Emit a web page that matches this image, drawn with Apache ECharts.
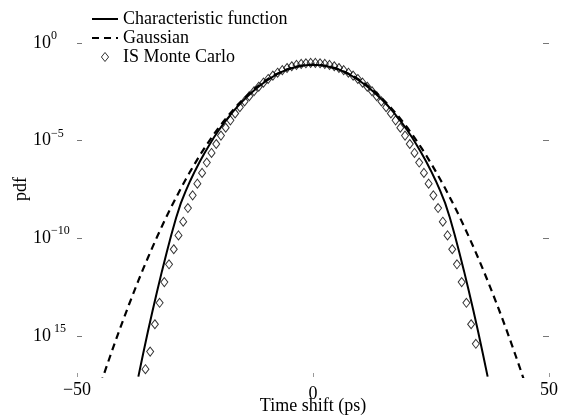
<!DOCTYPE html>
<html>
<head>
<meta charset="utf-8">
<script src="https://cdn.jsdelivr.net/npm/echarts@6/dist/echarts.min.js"></script>
<style>html,body{margin:0;padding:0;background:#fff}#c{width:575px;height:416px}</style>
</head>
<body>
<div id="c"></div>
<script>
// Time shift (ps) sample positions and log10(pdf) values
const charX = [-37,-36,-35,-34,-33,-32,-31,-30,-29,-28,-27,-26,-25,-24,-23,-22,-21,-20,-19,-18,-17,-16,-15,-14,-13,-12,-11,-10,-9,-8,-7,-6,-5,-4,-3,-2,-1,0,1,2,3,4,5,6,7,8,9,10,11,12,13,14,15,16,17,18,19,20,21,22,23,24,25,26,27,28,29,30,31,32,33,34,35,36,37];
const charLog = [-17.08,-15.92,-14.80,-13.72,-12.68,-11.68,-10.72,-9.80,-8.95,-8.20,-7.60,-7.05,-6.55,-6.08,-5.64,-5.23,-4.84,-4.48,-4.14,-3.83,-3.53,-3.26,-3.00,-2.76,-2.54,-2.33,-2.14,-1.96,-1.80,-1.65,-1.52,-1.41,-1.32,-1.25,-1.19,-1.15,-1.13,-1.12,-1.13,-1.15,-1.19,-1.25,-1.32,-1.41,-1.52,-1.65,-1.80,-1.96,-2.14,-2.33,-2.54,-2.76,-3.00,-3.26,-3.53,-3.83,-4.14,-4.48,-4.84,-5.23,-5.64,-6.08,-6.55,-7.05,-7.60,-8.20,-8.95,-9.80,-10.72,-11.68,-12.68,-13.72,-14.80,-15.92,-17.08];

const gaussX = [-45,-44,-43,-42,-41,-40,-39,-38,-37,-36,-35,-34,-33,-32,-31,-30,-29,-28,-27,-26,-25,-24,-23,-22,-21,-20,-19,-18,-17,-16,-15,-14,-13,-12,-11,-10,-9,-8,-7,-6,-5,-4,-3,-2,-1,0,1,2,3,4,5,6,7,8,9,10,11,12,13,14,15,16,17,18,19,20,21,22,23,24,25,26,27,28,29,30,31,32,33,34,35,36,37,38,39,40,41,42,43,44,45];
const gaussLog = [-17.47,-16.75,-16.05,-15.36,-14.69,-14.04,-13.40,-12.78,-12.17,-11.58,-11.01,-10.45,-9.91,-9.38,-8.87,-8.38,-7.91,-7.44,-7.00,-6.57,-6.16,-5.76,-5.38,-5.02,-4.67,-4.34,-4.03,-3.73,-3.45,-3.18,-2.93,-2.69,-2.48,-2.27,-2.09,-1.92,-1.76,-1.63,-1.51,-1.40,-1.31,-1.24,-1.18,-1.14,-1.12,-1.11,-1.12,-1.14,-1.18,-1.24,-1.31,-1.40,-1.51,-1.63,-1.76,-1.92,-2.09,-2.27,-2.48,-2.69,-2.93,-3.18,-3.45,-3.73,-4.03,-4.34,-4.67,-5.02,-5.38,-5.76,-6.16,-6.57,-7.00,-7.44,-7.91,-8.38,-8.87,-9.38,-9.91,-10.45,-11.01,-11.58,-12.17,-12.78,-13.40,-14.04,-14.69,-15.36,-16.05,-16.75,-17.47];

const mcX = [-35.5,-34.5,-33.5,-32.5,-31.5,-30.5,-29.5,-28.5,-27.5,-26.5,-25.5,-24.5,-23.5,-22.5,-21.5,-20.5,-19.5,-18.5,-17.5,-16.5,-15.5,-14.5,-13.5,-12.5,-11.5,-10.5,-9.5,-8.5,-7.5,-6.5,-5.5,-4.5,-3.5,-2.5,-1.5,-0.5,0.5,1.5,2.5,3.5,4.5,5.5,6.5,7.5,8.5,9.5,10.5,11.5,12.5,13.5,14.5,15.5,16.5,17.5,18.5,19.5,20.5,21.5,22.5,23.5,24.5,25.5,26.5,27.5,28.5,29.5,30.5,31.5,32.5,33.5,34.5];
const mcLog = [-16.70,-15.80,-14.40,-13.30,-12.24,-11.33,-10.56,-9.85,-9.15,-8.45,-7.80,-7.20,-6.65,-6.12,-5.63,-5.17,-4.74,-4.34,-3.96,-3.61,-3.29,-2.99,-2.72,-2.47,-2.24,-2.03,-1.84,-1.67,-1.52,-1.39,-1.28,-1.19,-1.12,-1.07,-1.04,-1.02,-1.02,-1.04,-1.07,-1.12,-1.19,-1.28,-1.39,-1.52,-1.67,-1.84,-2.03,-2.24,-2.47,-2.72,-2.99,-3.29,-3.61,-3.96,-4.34,-4.74,-5.17,-5.63,-6.12,-6.65,-7.20,-7.80,-8.45,-9.15,-9.85,-10.56,-11.33,-12.24,-13.30,-14.40,-15.40];

const xTicks = [-50, 0, 50];
const yTickExp = [0, -5, -10, -15];
const yTickText = ['{b|10}{s|0}', '{b|10}{s|\u22125}', '{b|10}{s|\u221210}', '{b|10}{s| 15}'];
const seriesNames = ['Characteristic function', 'Gaussian', 'IS Monte Carlo'];

const pairs = (xs, ls) => xs.map((x, i) => [x, Math.pow(10, ls[i])]);
const yTickVals = yTickExp.map(e => Math.pow(10, e));
const FONT = 'Liberation Serif';
const hiddenSymbol = {color: 'rgba(0,0,0,0)', borderWidth: 0, opacity: 0};

const chart = echarts.init(document.getElementById('c'), null, {renderer: 'canvas'});
chart.setOption({
  animation: false,
  backgroundColor: '#fff',
  textStyle: {fontFamily: FONT},
  grid: {left: 77, right: 26, top: 43, bottom: 39, containLabel: false, outerBoundsMode: 'none'},
  legend: {
    orient: 'vertical', left: 86, top: 5, itemWidth: 26, itemHeight: 9, itemGap: 1,
    symbolKeepAspect: true,
    textStyle: {fontFamily: FONT, fontSize: 18, color: '#000', lineHeight: 18},
    data: [
      {name: seriesNames[0], itemStyle: hiddenSymbol},
      {name: seriesNames[1], itemStyle: hiddenSymbol},
      {name: seriesNames[2], icon: 'path://M4,0L8,5L4,10L0,5Z', itemStyle: {color: '#fff', borderColor: '#000', borderWidth: 1}}
    ]
  },
  xAxis: {
    type: 'value', min: -50, max: 50, interval: 50,
    axisLine: {show: false, onZero: false}, splitLine: {show: false},
    axisTick: {show: true, inside: true, length: 4, lineStyle: {color: '#999'}},
    axisLabel: {margin: 4, fontFamily: FONT, fontSize: 18, color: '#000',
      formatter: v => v < 0 ? '\u2212' + Math.abs(v) : (v === 0 ? '{z|0}' : String(v)),
      rich: {z: {fontFamily: FONT, fontSize: 18, color: '#000', padding: [4, 0, 0, 0]}}},
    name: 'Time shift (ps)', nameLocation: 'middle', nameGap: 20, nameMoveOverlap: false,
    nameTextStyle: {fontFamily: FONT, fontSize: 18, color: '#000', verticalAlign: 'top'}
  },
  yAxis: [{
    type: 'log', min: Math.pow(10, -17.1), max: 1,
    axisLine: {show: false, onZero: false}, splitLine: {show: false},
    axisTick: {show: true, inside: true, length: 5, customValues: yTickVals, lineStyle: {color: '#777'}},
    axisLabel: {
      customValues: yTickVals, align: 'left', margin: 44, color: '#000',
      formatter: v => { const e = Math.round(Math.log10(v)); return yTickText[yTickExp.indexOf(e)] || ''; },
      rich: {
        b: {fontFamily: FONT, fontSize: 18, color: '#000'},
        s: {fontFamily: FONT, fontSize: 12, color: '#000', padding: [0, 0, 14, 0]}
      }
    }
  }, {
    type: 'log', min: Math.pow(10, -17.1), max: 1, position: 'right',
    axisLine: {show: false, onZero: false}, splitLine: {show: false},
    axisTick: {show: true, inside: true, length: 6, customValues: yTickVals, lineStyle: {color: '#777'}},
    axisLabel: {show: false, customValues: yTickVals}
  }],
  graphic: [{
    type: 'text', left: 12, top: 177, rotation: Math.PI / 2,
    style: {text: 'pdf', fontFamily: FONT, fontSize: 18, fill: '#000'}
  }],
  series: [
    {name: seriesNames[0], type: 'line', data: pairs(charX, charLog), showSymbol: false, symbol: 'none',
      lineStyle: {color: '#000', width: 2}, itemStyle: {color: '#000'}, z: 3},
    {name: seriesNames[1], type: 'line', data: pairs(gaussX, gaussLog), showSymbol: false, symbol: 'none',
      lineStyle: {color: '#000', width: 2.2, type: [7, 5]}, itemStyle: {color: '#000'}, z: 2},
    {name: seriesNames[2], type: 'scatter', data: pairs(mcX, mcLog), symbol: 'diamond', symbolSize: [7, 9],
      itemStyle: {color: 'rgba(255,255,255,0)', borderColor: '#000', borderWidth: 1}, z: 4}
  ]
});
</script>
</body>
</html>
